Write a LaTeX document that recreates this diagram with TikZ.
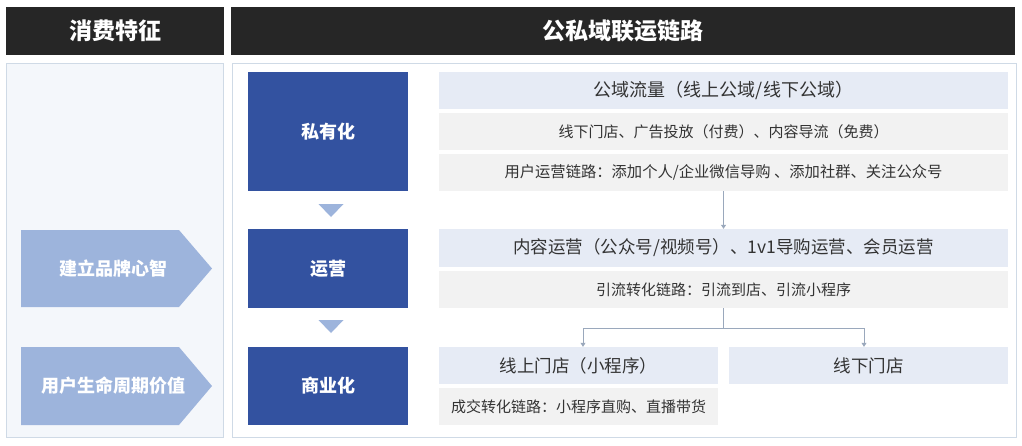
\documentclass[tikz,border=0pt]{standalone}
\usepackage{fontspec}
\setmainfont{Noto Sans CJK SC}
\usetikzlibrary{arrows.meta,calc}
\definecolor{hdr}{HTML}{262626}
\definecolor{bluebox}{HTML}{3352A0}
\definecolor{lightarr}{HTML}{9DB4DC}
\definecolor{rowblue}{HTML}{E6EBF5}
\definecolor{rowgray}{HTML}{F2F2F2}
\definecolor{panelfill}{HTML}{F4F7FB}
\definecolor{panelline}{HTML}{CFDAE6}
\definecolor{txt}{HTML}{333333}
\definecolor{conncol}{HTML}{9AA8BC}
\begin{document}
\begin{tikzpicture}[x=1pt,y=-1pt,
 hdrbox/.style={fill=hdr, text=white, font=\fontsize{23}{26}\selectfont\bfseries, inner sep=0pt},
 panel/.style={fill=#1, draw=panelline, line width=1pt, inner sep=0pt},
 stage/.style={fill=bluebox, text=white, font=\fontsize{18}{21}\selectfont\bfseries, minimum width=160pt, inner sep=0pt},
 pent/.style={text=white, font=\fontsize{18}{21}\selectfont\bfseries, inner sep=0pt},
 rowA/.style={fill=rowblue, text=txt, font=\fontsize{17.5}{20}\selectfont, inner sep=0pt},
 rowB/.style={fill=rowgray, text=txt, font=\fontsize{15}{18}\selectfont, inner sep=0pt},
 conn/.style={draw=conncol, line width=0.8pt},
 tip/.style={-{Triangle[width=5pt,length=4pt]}},
 ]
\useasboundingbox[fill=white] (0,0) rectangle (1022,445);

% headers
\node[hdrbox, minimum width=218pt, minimum height=48pt] (h1) at (115,31) {消费特征};
\node[hdrbox, minimum width=784pt, minimum height=48pt] (h2) at (623,31) {公私域联运链路};

% panels
\node[panel=panelfill, minimum width=217pt, minimum height=374pt] (p1) at (114.5,250) {};
\node[panel=white, minimum width=784pt, minimum height=374pt] (p2) at (624,250) {};

% stages
\node[stage, minimum height=119pt] (s1) at (328,131.5) {私有化};
\node[stage, minimum height=79pt] (s2) at (328,268.5) {运营};
\node[stage, minimum height=78pt] (s3) at (328,386) {商业化};

% down triangles between stages
\fill[lightarr] (318.5,204) -- (343.5,204) -- (331,217) -- cycle;
\fill[lightarr] (318.5,320) -- (343.5,320) -- (331,333) -- cycle;

% pentagon arrows (consumer features)
\fill[lightarr] (21,230) -- (179,230) -- (212,268.5) -- (179,307) -- (21,307) -- cycle;
\node[pent] (c1) at (113,268.5) {建立品牌心智};
\fill[lightarr] (21,347) -- (179,347) -- (212,386) -- (179,425) -- (21,425) -- cycle;
\node[pent] (c2) at (113,386) {用户生命周期价值};

% rows
\node[rowA, font=\fontsize{18}{20}\selectfont, minimum width=569pt, minimum height=37pt] (r1) at (723.5,90.5) {公域流量（线上公域/线下公域）};
\node[rowB, minimum width=569pt, minimum height=37pt] (r2) at (723.5,131.5) {线下门店、广告投放（付费）、内容导流（免费）};
\node[rowB, font=\fontsize{15.3}{18}\selectfont, minimum width=569pt, minimum height=37pt] (r3) at (723.5,172.5) {用户运营链路：添加个人/企业微信导购 、添加社群、关注公众号};
\node[rowA, minimum width=569pt, minimum height=38pt] (r4) at (723.5,248) {内容运营（公众号/视频号）、1v1导购运营、会员运营};
\node[rowB, minimum width=569pt, minimum height=37pt] (r5) at (723.5,289.5) {引流转化链路：引流到店、引流小程序};
\node[rowA, minimum width=279pt, minimum height=37pt] (r6) at (578.5,365.5) {线上门店（小程序）};
\node[rowA, minimum width=279pt, minimum height=37pt] (r7) at (868.5,365.5) {线下门店};
\node[rowB, minimum width=279pt, minimum height=37pt] (r8) at (578.5,406.5) {成交转化链路：小程序直购、直播带货};

% connectors
\draw[conn,tip] (r3.south) -- (r4.north);
\draw[conn] (r5.south) -- ++(0,20) coordinate (j);
\draw[conn,tip] (j) -| ([xshift=4.5pt]r6.north);
\draw[conn,tip] (j) -| ([xshift=-4.5pt]r7.north);
\end{tikzpicture}
\end{document}
